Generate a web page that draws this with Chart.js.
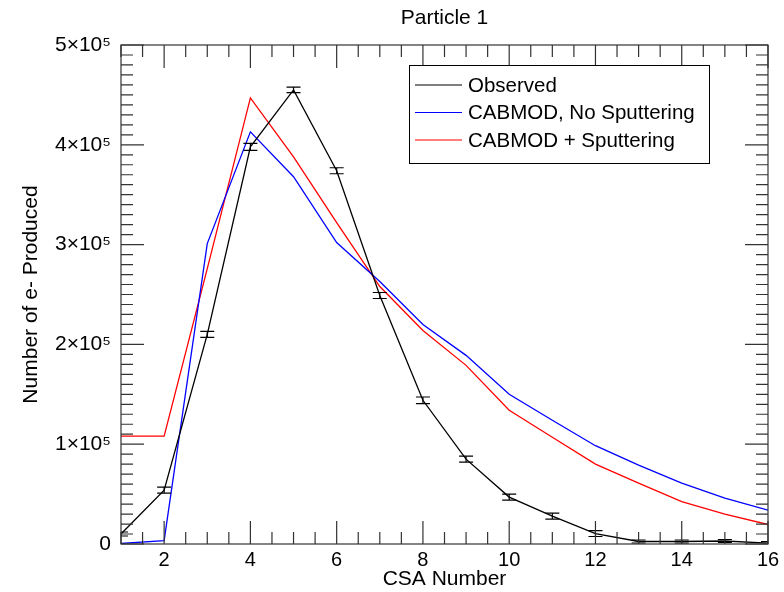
<!DOCTYPE html>
<html>
<head>
<meta charset="utf-8">
<title>Particle 1</title>
<script src="https://cdn.jsdelivr.net/npm/chart.js@4.4.1/dist/chart.umd.min.js"></script>
<style>
  html, body { margin: 0; padding: 0; background: #fff; }
  #wrap { width: 784px; height: 592px; }
</style>
</head>
<body>
<div id="wrap"><canvas id="chart" width="784" height="592"></canvas></div>
<script>
// values
const csaNumbers = [1, 2, 3, 4, 5, 6, 7, 8, 9, 10, 11, 12, 13, 14, 15, 16];
const observed = [10000, 54000, 210000, 398000, 455000, 374000, 249000, 144000, 85000, 47000, 28000, 10500, 2500, 2500, 3000, 800];
const observedErr = [2000, 3000, 3000, 3500, 2700, 3000, 3000, 3300, 3000, 3000, 3000, 3000, 1500, 1500, 1500, 1500];
const noSputtering = [500, 3300, 301000, 413000, 368000, 302000, 263000, 220000, 189000, 150000, 124000, 98500, 79000, 61000, 46000, 34000];
const withSputtering = [108000, 108000, 276000, 447000, 388000, 322000, 258000, 214000, 179000, 134000, 107000, 80000, 61000, 42500, 30000, 19500];

const xTickValues = [2, 4, 6, 8, 10, 12, 14, 16];
const yTickValues = [0, 100000, 200000, 300000, 400000, 500000];

const FONT = '"Liberation Sans", Arial, Helvetica, sans-serif';
Chart.defaults.font.family = FONT;
Chart.defaults.color = "#000";

const toPoints = (ys) => ys.map((y, i) => ({ x: csaNumbers[i], y }));

// error bars on the observed series
const errorBars = {
  id: "errorBars",
  afterDatasetsDraw(chart) {
    const { ctx, chartArea, scales } = chart;
    ctx.save();
    ctx.beginPath();
    ctx.rect(chartArea.left, chartArea.top, chartArea.right - chartArea.left, chartArea.bottom - chartArea.top);
    ctx.clip();
    ctx.strokeStyle = "#000";
    ctx.lineWidth = 1.2;
    const capHalf = 7;
    csaNumbers.forEach((x, i) => {
      const px = scales.x.getPixelForValue(x);
      const top = scales.y.getPixelForValue(observed[i] + observedErr[i]);
      const bot = scales.y.getPixelForValue(observed[i] - observedErr[i]);
      ctx.beginPath();
      ctx.moveTo(px, top);
      ctx.lineTo(px, bot);
      ctx.moveTo(px - capHalf, top);
      ctx.lineTo(px + capHalf, top);
      ctx.moveTo(px - capHalf, bot);
      ctx.lineTo(px + capHalf, bot);
      ctx.stroke();
    });
    ctx.restore();
  },
};

// box around the plot with inward major/minor ticks on all four sides
const frameTicks = {
  id: "frameTicks",
  afterDraw(chart) {
    const { ctx, chartArea, scales } = chart;
    const { left, right, top, bottom } = chartArea;
    const MAJOR = 23;
    const MINOR = 12;
    ctx.save();
    ctx.strokeStyle = "#333";
    ctx.lineWidth = 1.2;
    ctx.strokeRect(left, top, right - left, bottom - top);
    ctx.beginPath();
    for (let v = 1; v <= 16.001; v += 0.5) {
      const px = scales.x.getPixelForValue(v);
      const len = xTickValues.includes(v) ? MAJOR : MINOR;
      ctx.moveTo(px, bottom);
      ctx.lineTo(px, bottom - len);
      ctx.moveTo(px, top);
      ctx.lineTo(px, top + len);
    }
    for (let v = 0; v <= 500000; v += 10000) {
      const py = scales.y.getPixelForValue(v);
      const len = v % 100000 === 0 ? MAJOR : MINOR;
      ctx.moveTo(left, py);
      ctx.lineTo(left + len, py);
      ctx.moveTo(right, py);
      ctx.lineTo(right - len, py);
    }
    ctx.stroke();
    ctx.restore();
  },
};

// legend box inside the plot, top right
const boxLegend = {
  id: "boxLegend",
  afterDraw(chart) {
    const { ctx } = chart;
    const bx = 409.5, by = 65.5, bw = 300, bh = 98;
    ctx.save();
    ctx.fillStyle = "#fff";
    ctx.fillRect(bx, by, bw, bh);
    ctx.strokeStyle = "#000";
    ctx.lineWidth = 1;
    ctx.strokeRect(bx, by, bw, bh);
    ctx.font = `20.5px ${FONT}`;
    ctx.textBaseline = "middle";
    ctx.fillStyle = "#000";
    chart.data.datasets.forEach((ds, i) => {
      const y = 85 + i * 27.5;
      ctx.strokeStyle = ds.borderColor;
      ctx.lineWidth = 1.2;
      ctx.beginPath();
      ctx.moveTo(415, y);
      ctx.lineTo(462, y);
      ctx.stroke();
      ctx.fillText(ds.label, 468, y + 1);
    });
    ctx.restore();
  },
};

const lineStyle = { borderWidth: 1.3, pointRadius: 0, tension: 0, fill: false };

const chart = new Chart(document.getElementById("chart"), {
  type: "line",
  data: {
    datasets: [
      { label: "Observed", data: toPoints(observed), borderColor: "#000000", ...lineStyle },
      { label: "CABMOD, No Sputtering", data: toPoints(noSputtering), borderColor: "#0000ff", ...lineStyle },
      { label: "CABMOD + Sputtering", data: toPoints(withSputtering), borderColor: "#ff0000", ...lineStyle },
    ],
  },
  plugins: [errorBars, frameTicks, boxLegend],
  options: {
    responsive: false,
    animation: false,
    layout: { padding: { top: 0, right: 16, bottom: 0, left: 0 } },
    plugins: {
      legend: { display: false },
      tooltip: { enabled: false },
      title: {
        display: true,
        text: "Particle 1",
        fullSize: false,
        color: "#000",
        font: { size: 21, weight: "normal" },
        padding: { top: 5.4, bottom: 14.4 },
      },
    },
    scales: {
      x: {
        type: "linear",
        min: 1,
        max: 16,
        grid: { display: false, drawTicks: false },
        border: { display: false },
        afterBuildTicks: (scale) => {
          scale.ticks = xTickValues.map((value) => ({ value }));
        },
        afterFit: (scale) => {
          scale.height = 48;
        },
        ticks: { font: { size: 20 }, color: "#000", padding: 4, maxRotation: 0 },
        title: {
          display: true,
          text: "CSA Number",
          color: "#000",
          font: { size: 21 },
          padding: { top: 0, bottom: 0 },
        },
      },
      y: {
        type: "linear",
        min: 0,
        max: 500000,
        grid: { display: false, drawTicks: false },
        border: { display: false },
        afterBuildTicks: (scale) => {
          scale.ticks = yTickValues.map((value) => ({ value }));
        },
        afterFit: (scale) => {
          scale.width = 121;
        },
        ticks: {
          font: { size: 21 },
          color: "#000",
          padding: 10,
          callback: (v) => (v === 0 ? "0" : `${v / 100000}×10⁵`),
        },
        title: {
          display: true,
          text: "Number of e- Produced",
          color: "#000",
          font: { size: 21 },
          padding: { top: 18.4, bottom: 0 },
        },
      },
    },
  },
});
</script>
</body>
</html>
